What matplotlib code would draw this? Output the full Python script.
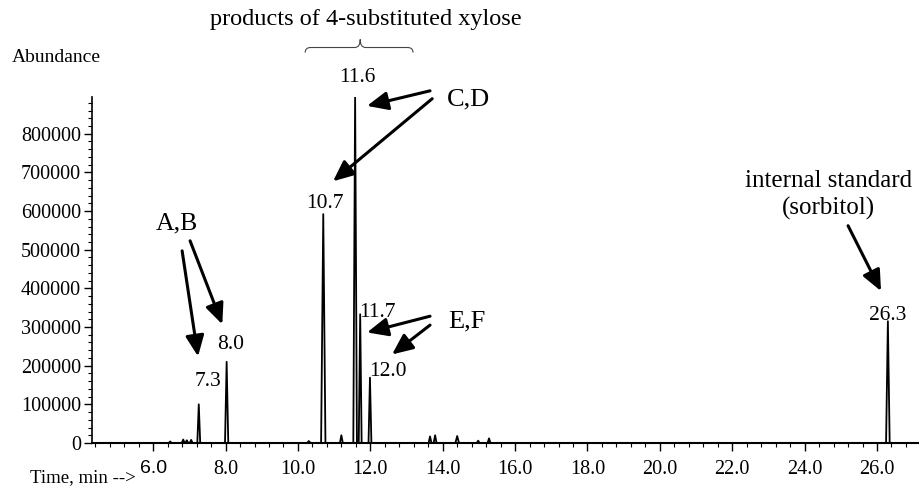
import matplotlib
matplotlib.use("Agg")
import matplotlib.pyplot as plt
from matplotlib.path import Path
from matplotlib.patches import PathPatch
from matplotlib.ticker import MultipleLocator, FuncFormatter

plt.rcParams['font.family'] = ['Liberation Serif', 'DejaVu Serif']

# peaks: retention time (min), abundance
peak_rt = [6.47, 6.83, 6.93, 7.05, 7.26, 8.03, 10.30, 10.70, 11.20, 11.58,
           11.72, 11.99, 13.65, 13.79, 14.40, 14.98, 15.28, 26.30]
peak_height = [4000, 9000, 7000, 8000, 100000, 210000, 5000, 592000, 20000, 900000,
               333000, 169000, 17000, 20000, 18000, 6000, 12000, 315000]
peak_halfwidth = [0.04, 0.04, 0.04, 0.04, 0.04, 0.045, 0.05, 0.06, 0.04, 0.05,
                  0.04, 0.04, 0.04, 0.04, 0.05, 0.04, 0.04, 0.05]

# labelled retention times
label_text = ["7.3", "8.0", "10.7", "11.6", "11.7", "12.0", "26.3"]
label_x = [7.52, 8.13, 10.75, 11.64, 12.19, 12.49, 26.30]
label_y = [159000, 255000, 620000, 945000, 338500, 185000, 331000]

x_min, x_max = 4.31, 27.16
y_max = 895000

# build trace from peak list
trace_x = [x_min]
trace_y = [0]
for rt, h, w in zip(peak_rt, peak_height, peak_halfwidth):
    trace_x += [rt - w, rt, rt + w]
    trace_y += [0, h, 0]
trace_x.append(x_max)
trace_y.append(0)
order = sorted(range(len(trace_x)), key=lambda i: trace_x[i])
trace_x = [trace_x[i] for i in order]
trace_y = [trace_y[i] for i in order]

fig = plt.figure(figsize=(9.19, 4.87), dpi=100)
ax = fig.add_axes([92 / 919, 44 / 487, 827 / 919, 346 / 487])
ax.plot(trace_x, trace_y, color='black', lw=1.3)

ax.set_xlim(x_min, x_max)
ax.set_ylim(0, y_max)
ax.spines['top'].set_visible(False)
ax.spines['right'].set_visible(False)
ax.spines['left'].set_linewidth(1.2)
ax.spines['bottom'].set_linewidth(1.5)

ax.xaxis.set_major_locator(MultipleLocator(2))
ax.xaxis.set_minor_locator(MultipleLocator(0.4))
ax.xaxis.set_major_formatter(FuncFormatter(lambda v, p: "%.1f" % v))
ax.yaxis.set_major_locator(MultipleLocator(100000))
ax.yaxis.set_minor_locator(MultipleLocator(20000))
ax.yaxis.set_major_formatter(FuncFormatter(lambda v, p: "%d" % v))
ax.tick_params(axis='both', which='major', direction='out', length=6, width=1,
               labelsize=14.5, pad=2)
ax.tick_params(axis='both', which='minor', direction='out', length=3, width=0.8)
ax.tick_params(axis='x', which='major', pad=6)

fig.canvas.draw()
for lab in ax.get_xticklabels():
    if lab.get_text() == "6.0":
        lab.set_family(['Liberation Sans', 'DejaVu Sans'])
        lab.set_fontsize(14)

fig.text(12 / 919, 1 - 57 / 487, "Abundance", fontsize=14, va='center', ha='left')
fig.text(30 / 919, 1 - 478 / 487, "Time, min -->", fontsize=13.5, va='center', ha='left')

for t, x, y in zip(label_text, label_x, label_y):
    ax.text(x, y, t, fontsize=15.5, ha='center', va='center', clip_on=False)

ax.text(11.88, 1095000, "products of 4-substituted xylose", fontsize=17.5,
        ha='center', va='center', clip_on=False)

# curly brace above the C-F peaks
xl, xr, xt = 10.20, 13.18, 11.72
yb, ym, ytip = 1010000, 1023000, 1044000
verts = [(xl, yb), (xl, ym), (xl + 0.15, ym), (xt - 0.15, ym), (xt, ym), (xt, ytip),
         (xt, ym), (xt + 0.15, ym), (xr - 0.15, ym), (xr, ym), (xr, yb)]
codes = [Path.MOVETO, Path.CURVE3, Path.CURVE3, Path.LINETO, Path.CURVE3, Path.CURVE3,
         Path.CURVE3, Path.CURVE3, Path.LINETO, Path.CURVE3, Path.CURVE3]
ax.add_patch(PathPatch(Path(verts, codes), fill=False, lw=0.8, color='#444444',
                       clip_on=False))

ax.text(14.70, 888000, "C,D", fontsize=19, ha='center', va='center', clip_on=False)
ax.text(6.66, 568000, "A,B", fontsize=18.5, ha='center', va='center')
ax.text(14.67, 315000, "E,F", fontsize=19, ha='center', va='center')
ax.text(24.65, 677000, "internal standard", fontsize=18, ha='center', va='center')
ax.text(24.65, 607000, "(sorbitol)", fontsize=18, ha='center', va='center')

arrows = [
    ((13.65, 911000), (11.91, 872000)),
    ((13.71, 890600), (10.97, 677000)),
    ((6.80, 497000), (7.24, 224000)),
    ((7.02, 523000), (7.91, 307000)),
    ((13.65, 328000), (11.91, 286000)),
    ((13.65, 305000), (12.60, 229000)),
    ((25.20, 562000), (26.11, 393000)),
]
for start, tip in arrows:
    ax.annotate("", xy=tip, xytext=start,
                arrowprops=dict(arrowstyle='-|>,head_length=0.45,head_width=0.2',
                                color='black', lw=2.2,
                                mutation_scale=28, shrinkA=0, shrinkB=0))

fig.savefig("out.png", dpi=100)
